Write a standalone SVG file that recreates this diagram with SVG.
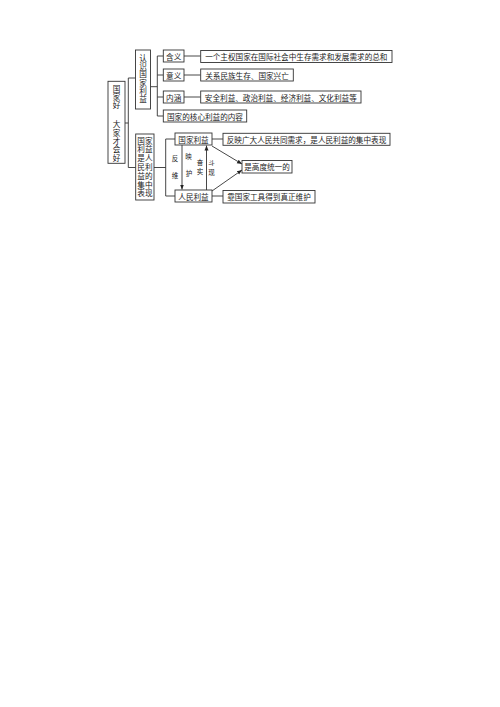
<svg xmlns="http://www.w3.org/2000/svg" width="500" height="707" viewBox="0 0 500 707">
<defs>
<style>
.b{fill:#fff;stroke:#333;stroke-width:0.9}
.c{fill:none;stroke:#333;stroke-width:0.9}
text{font-family:"Noto Sans CJK SC","Noto Sans",sans-serif;font-size:7.6px;fill:#1a1a1a;dominant-baseline:central;text-anchor:middle}
.v{writing-mode:vertical-rl;text-anchor:start;letter-spacing:0.7px}
.s{font-size:6.5px}
</style>
<marker id="ah" viewBox="0 0 10 10" refX="10" refY="5" markerWidth="5" markerHeight="5" markerUnits="userSpaceOnUse" orient="auto">
<path d="M0,1 L10,5 L0,9 z" fill="#222"/>
</marker>
</defs>
<rect width="500" height="707" fill="#fff"/>
<g id="connectors">
<path class="c" d="M125 123 H128.3 M128.3 78 V167.5 M128.3 78 H135.5 M128.3 167.5 H135.7"/>
<path class="c" d="M150.5 86.7 H157.3 M157.3 56 V116 M157.3 56 H163.3 M157.3 75 H163.3 M157.3 97 H163.3 M157.3 116 H163.3"/>
<path class="c" d="M184 56 H200.7 M184 75 H200.7 M184 97 H200.7"/>
<path class="c" d="M154 167.5 H165.7 M165.7 139 V196 M165.7 139 H175 M165.7 196 H175"/>
<path class="c" d="M212 139 H223 M212 196 H223"/>
<path class="c" d="M182 145 V189.5" marker-end="url(#ah)"/>
<path class="c" d="M206.5 190 V145.5" marker-end="url(#ah)"/>
<path class="c" d="M212 146 L242 164" marker-end="url(#ah)"/>
<path class="c" d="M212 191 L242 170" marker-end="url(#ah)"/>
</g>
<g id="arrow-labels">
<text class="s" x="175" y="158">反</text>
<text class="s" x="188.5" y="156">映</text>
<text class="s" x="175" y="175">维</text>
<text class="s" x="189" y="173">护</text>
<text class="s" x="200" y="161.5">奋</text>
<text class="s" x="200" y="170.5">实</text>
<text class="s" x="211.5" y="162">斗</text>
<text class="s" x="211.5" y="172">现</text>
</g>
<g id="root">
<rect class="b" x="108" y="81.3" width="17" height="82"/>
<text class="v" x="116.5" y="85.2">国家好</text>
<text class="v" x="116.5" y="120.7">大家才会好</text>
</g>
<g id="renshi">
<rect class="b" x="135.5" y="50" width="15" height="59"/>
<text class="v" x="143" y="54.2">认识国家利益</text>
</g>
<g id="hanyi">
<rect class="b" x="163.3" y="50" width="20.7" height="12"/>
<text x="173.7" y="56">含义</text>
</g>
<g id="yiyi">
<rect class="b" x="163.3" y="69" width="20.7" height="12"/>
<text x="173.7" y="75">意义</text>
</g>
<g id="neihan">
<rect class="b" x="163.3" y="91" width="20.7" height="12"/>
<text x="173.7" y="97">内涵</text>
</g>
<g id="hexin">
<rect class="b" x="163.3" y="110" width="83.4" height="12"/>
<text x="205" y="116">国家的核心利益的内容</text>
</g>
<g id="hanyi-text">
<rect class="b" x="200.7" y="50.5" width="191.3" height="12"/>
<text x="296.3" y="56.5">一个主权国家在国际社会中生存需求和发展需求的总和</text>
</g>
<g id="yiyi-text">
<rect class="b" x="200.7" y="69" width="92.6" height="12"/>
<text x="247" y="75">关系民族生存、国家兴亡</text>
</g>
<g id="neihan-text">
<rect class="b" x="200.7" y="91" width="160.3" height="12"/>
<text x="280.8" y="97">安全利益、政治利益、经济利益、文化利益等</text>
</g>
<g id="box2">
<rect class="b" x="135.7" y="134" width="18.3" height="66"/>
<text x="144.9" y="140">国家</text>
<text x="144.9" y="148.8">利益</text>
<text x="144.9" y="157.6">是人</text>
<text x="144.9" y="166.4">民利</text>
<text x="144.9" y="175.2">益的</text>
<text x="144.9" y="184">集中</text>
<text x="144.9" y="192.8">表现</text>
</g>
<g id="guojia">
<rect class="b" x="175" y="133" width="37" height="12"/>
<text x="193.5" y="139">国家利益</text>
</g>
<g id="renmin">
<rect class="b" x="175" y="190" width="37" height="12"/>
<text x="193.5" y="196">人民利益</text>
</g>
<g id="fanying">
<rect class="b" x="223" y="133.3" width="167" height="12"/>
<text x="306.5" y="139.3">反映广大人民共同需求，是人民利益的集中表现</text>
</g>
<g id="tongyi">
<rect class="b" x="242" y="160.5" width="50" height="12.5"/>
<text x="267" y="166.7">是高度统一的</text>
</g>
<g id="kao">
<rect class="b" x="223" y="190.5" width="92" height="12.5"/>
<text x="269" y="196.7">靠国家工具得到真正维护</text>
</g>
</svg>
